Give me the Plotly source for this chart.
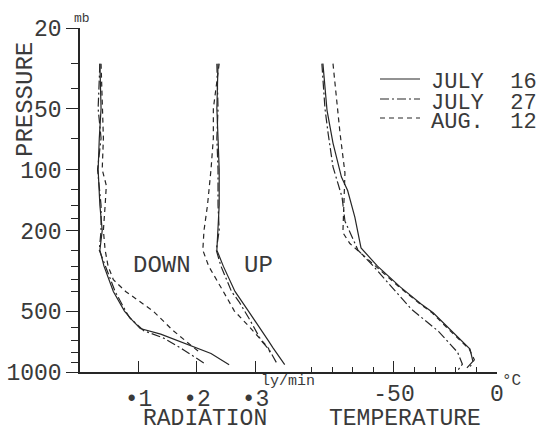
import math
import plotly.graph_objects as go

# --- Data (pressure in mb, radiation in ly/min, temperature in deg C) ---
dates = ["JULY  16", "JULY  27", "AUG.  12"]

p_down_jul16 = [30, 50, 70, 100, 150, 200, 250, 300, 400, 500, 550, 610, 650, 740, 810, 920]
down_jul16 = [0.034, 0.036, 0.033, 0.031, 0.034, 0.038, 0.034, 0.041, 0.057, 0.076, 0.088, 0.103, 0.138, 0.190, 0.224, 0.255]
p_down_jul27 = [30, 50, 70, 100, 150, 200, 250, 300, 400, 500, 540, 625, 680, 780, 920]
down_jul27 = [0.034, 0.031, 0.036, 0.030, 0.036, 0.036, 0.033, 0.043, 0.060, 0.078, 0.085, 0.109, 0.143, 0.178, 0.216]
p_down_aug12 = [30, 50, 70, 100, 120, 150, 200, 250, 300, 350, 400, 500, 620, 700, 810]
down_aug12 = [0.036, 0.038, 0.040, 0.038, 0.045, 0.043, 0.040, 0.043, 0.048, 0.057, 0.078, 0.125, 0.158, 0.180, 0.207]

p_up_jul16 = [30, 50, 70, 100, 150, 200, 250, 300, 400, 500, 550, 700, 760, 850, 920]
up_jul16 = [0.236, 0.234, 0.236, 0.238, 0.238, 0.236, 0.234, 0.245, 0.265, 0.288, 0.298, 0.322, 0.330, 0.342, 0.350]
p_up_jul27 = [30, 50, 70, 100, 150, 200, 250, 300, 400, 450, 550, 700, 780, 900]
up_jul27 = [0.234, 0.236, 0.234, 0.236, 0.236, 0.238, 0.233, 0.241, 0.259, 0.272, 0.290, 0.310, 0.324, 0.336]
p_up_aug12 = [30, 50, 70, 100, 150, 200, 250, 300, 400, 500, 600, 760, 820]
up_aug12 = [0.238, 0.228, 0.228, 0.224, 0.218, 0.212, 0.210, 0.220, 0.245, 0.264, 0.290, 0.322, 0.326]

p_t_jul16 = [30, 51, 74, 109, 127, 172, 244, 300, 380, 460, 510, 615, 770, 886, 955]
t_jul16 = [-84.5, -82.5, -79.6, -75.5, -72.5, -69.0, -66.0, -58.0, -47.0, -37.0, -31.0, -23.0, -13.1, -11.7, -14.6]
p_t_jul27 = [30, 50, 66, 97, 137, 180, 250, 300, 366, 490, 630, 800, 915, 986]
t_jul27 = [-85.0, -83.5, -82.0, -79.6, -75.2, -73.8, -67.5, -60.0, -52.6, -41.5, -28.4, -19.1, -16.8, -19.2]
p_t_aug12 = [30, 38, 66, 104, 179, 205, 232, 270, 300, 380, 460, 510, 615, 770, 870, 940]
t_aug12 = [-79.6, -78.6, -76.2, -73.8, -74.8, -74.8, -71.4, -64.0, -58.5, -47.5, -37.5, -31.5, -23.5, -13.5, -11.0, -13.0]

INK = "#262626"
TXT = "#3a3a3a"
FONT = "Liberation Mono"
dashes = ["solid", "9px,3px,2px,3px", "5px,4px"]

fig = go.Figure()

down = [(p_down_jul16, down_jul16), (p_down_jul27, down_jul27), (p_down_aug12, down_aug12)]
up = [(p_up_jul16, up_jul16), (p_up_jul27, up_jul27), (p_up_aug12, up_aug12)]
temp = [(p_t_jul16, t_jul16), (p_t_jul27, t_jul27), (p_t_aug12, t_aug12)]

for i, name in enumerate(dates):
    ln = dict(color=INK, width=1.2, dash=dashes[i])
    for p, v in (down[i], up[i]):
        fig.add_trace(go.Scatter(x=v, y=p, mode="lines", line=ln, name=name,
                                 showlegend=False, xaxis="x", yaxis="y"))
    fig.add_trace(go.Scatter(x=temp[i][1], y=temp[i][0], mode="lines", line=ln,
                             name=name, showlegend=False, xaxis="x2", yaxis="y"))

# plot area in pixels: x 80..497, y 28..372
L, R, T, B = 80, 497, 28, 372


def px(x):
    return (x - L) / (R - L)


def py(y):
    return (B - y) / (B - T)


tickfont = dict(family=FONT, size=23, color=TXT)

fig.update_layout(
    width=544, height=434,
    margin=dict(l=L, r=544 - R, t=T, b=434 - B),
    plot_bgcolor="white", paper_bgcolor="white",
    showlegend=False,
    xaxis=dict(
        domain=[0, 1], range=[0, 0.713], automargin=False,
        tickvals=[0.1, 0.2, 0.3], ticktext=["•1", "•2", "•3"],
        ticks="inside", ticklen=11, tickwidth=1.2, tickcolor=INK,
        showline=True, linecolor=INK, linewidth=1.5,
        showgrid=False, zeroline=False, tickfont=tickfont, ticklabelstandoff=5,
    ),
    xaxis2=dict(
        overlaying="x", anchor="y", side="bottom", range=[-202.4, 0], automargin=False,
        tickvals=[-50, 0], ticktext=["-50", "0"],
        ticks="inside", ticklen=11, tickwidth=1.2, tickcolor=INK,
        minor=dict(tickvals=[-90, -80, -70, -60, -40, -30, -20, -10],
                   ticks="inside", ticklen=5, tickwidth=1, tickcolor=INK),
        showline=False, showgrid=False, zeroline=False,
        tickfont=tickfont, ticklabelstandoff=5,
    ),
    yaxis=dict(
        type="log", range=[3, math.log10(20)], automargin=False,
        tickvals=[20, 50, 100, 200, 500, 1000],
        ticktext=["20", "50", "100", "200", "500", "1000"],
        ticks="outside", ticklen=12, tickwidth=1.2, tickcolor=INK,
        minor=dict(tickvals=[30, 40, 70, 125, 150, 175, 250, 300, 350, 400, 600, 700, 800, 900],
                   ticks="outside", ticklen=7, tickwidth=1, tickcolor=INK),
        showline=True, linecolor=INK, linewidth=1.5,
        showgrid=False, zeroline=False, tickfont=tickfont,
    ),
)

# legend keys
for i, yy in enumerate([79, 99, 118]):
    fig.add_shape(type="line", xref="paper", yref="paper",
                  x0=px(380), x1=px(420), y0=py(yy), y1=py(yy),
                  line=dict(color=INK, width=1.2, dash=dashes[i]))
    fig.add_annotation(x=px(429), y=py(yy + 4), xref="paper", yref="paper",
                       text=dates[i], showarrow=False, xanchor="left", yanchor="middle",
                       font=dict(family=FONT, size=22, color=TXT))

labels = [
    ("PRESSURE", 25, 99, 24, -90),
    ("DOWN", 162, 265, 24, 0),
    ("UP", 258, 265, 24, 0),
    ("mb", 82, 19, 13, 0),
    ("ly/min", 288, 381, 15, 0),
    ("°C", 511, 381, 16, 0),
]
for text, x, y, size, ang in labels:
    fig.add_annotation(x=px(x), y=py(y), xref="paper", yref="paper", text=text,
                       showarrow=False, xanchor="center", yanchor="middle",
                       textangle=ang, font=dict(family=FONT, size=size, color=TXT))

# axis titles sit on the bottom edge
for text, x in (("RADIATION", 205), ("TEMPERATURE", 405)):
    fig.add_annotation(x=px(x), y=py(434), xref="paper", yref="paper", text=text,
                       showarrow=False, xanchor="center", yanchor="bottom",
                       font=dict(family=FONT, size=23, color=TXT))

# drop the browser's default page margin so the figure sits at the window corner
fig.write_html("out.html", config={"displayModeBar": False},
               post_script="document.body.style.margin='0px';")
